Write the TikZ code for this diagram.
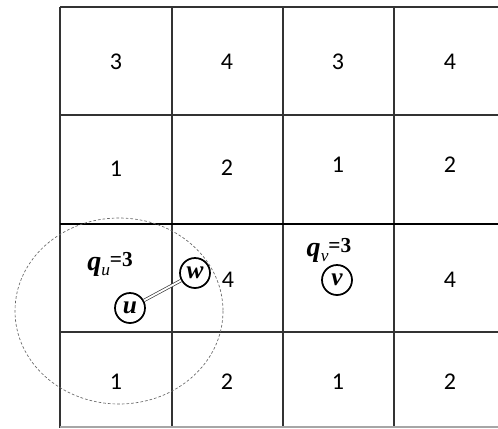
\documentclass[tikz,border=0pt]{standalone}
\usepackage{fontspec}
\setmainfont{Carlito}
\newfontfamily\qfont{Liberation Serif}
\newcommand{\qlab}[1]{{\fontsize{21}{21}\selectfont\bfseries\itshape q}\raisebox{-4pt}{\fontsize{13}{13}\selectfont\itshape #1}{\fontsize{16}{16}\selectfont\bfseries\raisebox{3pt}{=3}}}
\begin{document}
\begin{tikzpicture}[x=0.75pt,y=-0.75pt,
  gridline/.style={draw=black!80,line width=1.2pt},
  thickline/.style={draw=black,line width=2.2pt},
  num/.style={font=\fontsize{18}{18}\selectfont,inner sep=0pt},
  vert/.style={circle,draw=black,line width=1.3pt,minimum size=22.5pt,inner sep=0pt,
    font=\qfont\itshape\bfseries\fontsize{19}{19}\selectfont},
  qlabel/.style={inner sep=0pt,font=\qfont},
  link/.style={double=white,draw=black!80,line width=0.5pt,double distance=1.4pt}]
\useasboundingbox (0,0) rectangle (498,428);
\clip (0,0) rectangle (498,428);
% grid
\foreach \x in {60,172,283,394} \draw[gridline] (\x,7) -- (\x,428);
\foreach \y in {7,115,332} \draw[gridline] (60,\y) -- (510,\y);
\draw[thickline] (60,224) -- (510,224);
\draw[draw=black!35,line width=0.8pt] (60,427) -- (510,427);
% numbers
\node[num] (n11) at (116,62) {3};
\node[num] (n12) at (227,62) {4};
\node[num] (n13) at (338,62) {3};
\node[num] (n14) at (450,62) {4};
\node[num] (n21) at (116,169) {1};
\node[num] (n22) at (227,168) {2};
\node[num] (n23) at (338,165) {1};
\node[num] (n24) at (450,165) {2};
\node[num] (n32) at (228,280) {4};
\node[num] (n34) at (450,280) {4};
\node[num] (n41) at (116,382) {1};
\node[num] (n42) at (227,382) {2};
\node[num] (n43) at (338,382) {1};
\node[num] (n44) at (450,382) {2};
% dashed ellipse
\draw[draw=black!60,line width=0.5pt,dash pattern=on 2pt off 1.5pt] (119,311) ellipse [x radius=104, y radius=93];
% labels
\node[qlabel] (qu) at (110,264) {\qlab{u}};
\node[qlabel] (qv) at (329,250) {\qlab{v}};
% vertices
\node[vert] (u) at (130,308) {u};
\node[vert] (w) at (195,273) {w};
\node[vert] (v) at (337,280) {v};
\draw[link] (u) -- (w);
\end{tikzpicture}
\end{document}
